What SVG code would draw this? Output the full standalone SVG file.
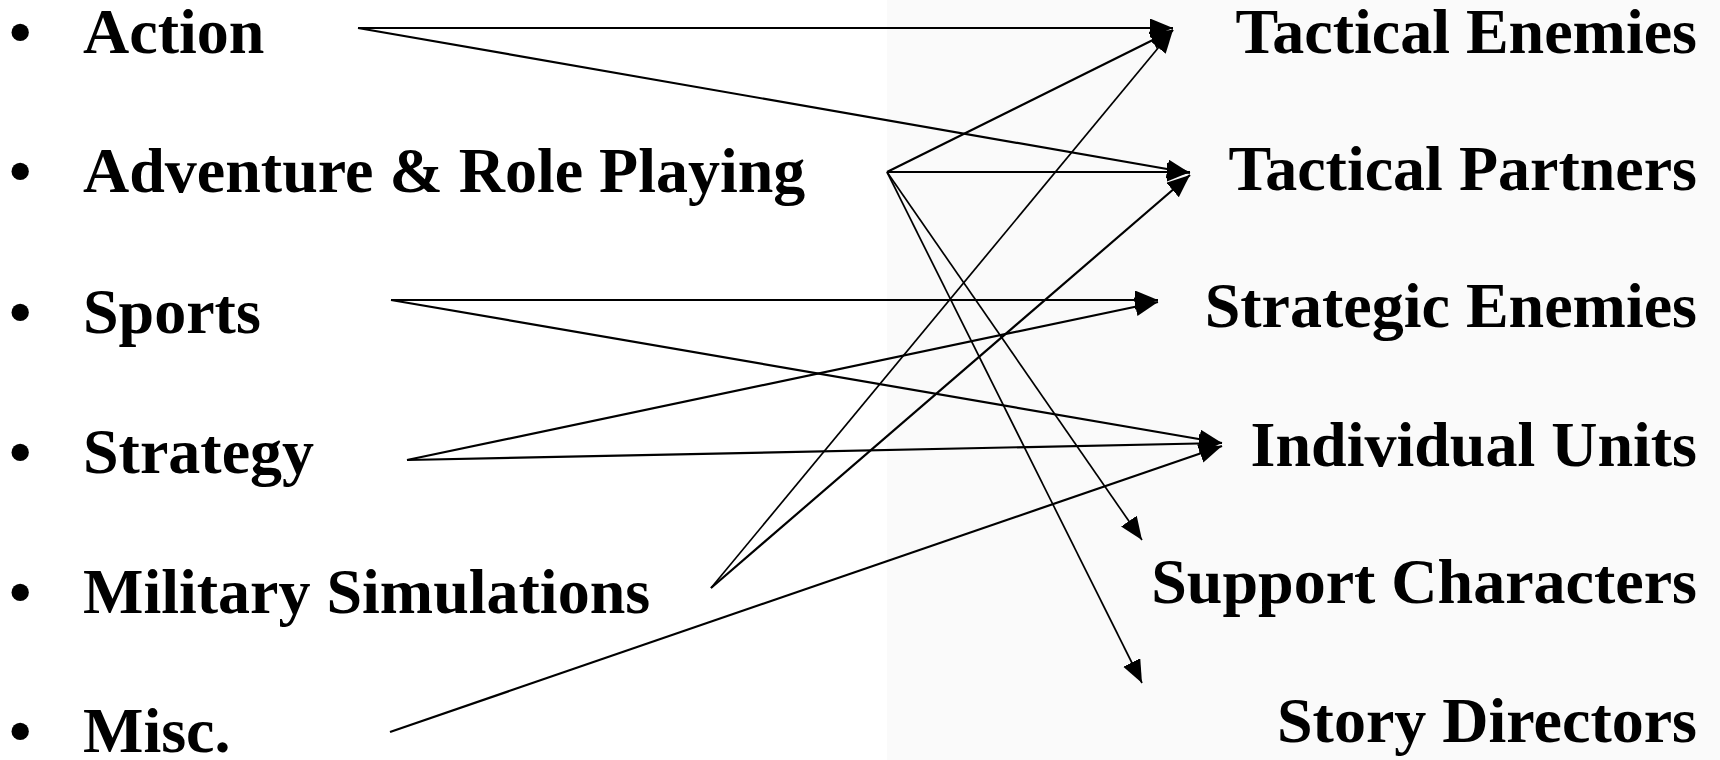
<svg xmlns="http://www.w3.org/2000/svg" width="1720" height="760" viewBox="0 0 1720 760">
<style>
.t{font-family:"Liberation Serif","Times New Roman",serif;font-weight:bold;font-size:64px;fill:#000}
.r{text-anchor:end}
.c line{stroke:#000;stroke-width:2.2;fill:none;marker-end:url(#ah)}
.c line.thin{stroke-width:1.7}
</style>
<defs>
<marker id="ah" markerUnits="userSpaceOnUse" markerWidth="24" markerHeight="20" refX="23" refY="9.5" orient="auto">
<path d="M0,0 L23,9.5 L0,19 z" fill="#000"/>
</marker>
</defs>
<rect x="0" y="0" width="1720" height="760" fill="#ffffff"/>
<rect x="887" y="0" width="833" height="760" fill="#fafafa"/>
<g id="src-action"><text class="t" x="9" y="53">•</text><text class="t" x="83" y="53">Action</text></g>
<g id="src-adventure"><text class="t" x="9" y="192">•</text><text class="t" x="83" y="192">Adventure &amp; Role Playing</text></g>
<g id="src-sports"><text class="t" x="9" y="333">•</text><text class="t" x="83" y="333">Sports</text></g>
<g id="src-strategy"><text class="t" x="9" y="473">•</text><text class="t" x="83" y="473">Strategy</text></g>
<g id="src-military"><text class="t" x="9" y="613">•</text><text class="t" x="83" y="613">Military Simulations</text></g>
<g id="src-misc"><text class="t" x="9" y="752">•</text><text class="t" x="83" y="752">Misc.</text></g>
<g id="dst-tactical-enemies"><text class="t r" x="1697" y="53">Tactical Enemies</text></g>
<g id="dst-tactical-partners"><text class="t r" x="1697" y="190">Tactical Partners</text></g>
<g id="dst-strategic-enemies"><text class="t r" x="1697" y="327">Strategic Enemies</text></g>
<g id="dst-individual-units"><text class="t r" x="1697" y="466">Individual Units</text></g>
<g id="dst-support-characters"><text class="t r" x="1697" y="603">Support Characters</text></g>
<g id="dst-story-directors"><text class="t r" x="1697" y="742">Story Directors</text></g>
<g id="connectors" class="c">
<line x1="358" y1="28" x2="1173" y2="28"/>
<line x1="358" y1="28" x2="1190" y2="173"/>
<line x1="887" y1="172" x2="1173" y2="30"/>
<line x1="887" y1="172" x2="1190" y2="172"/>
<line class="thin" x1="887" y1="172" x2="1142" y2="540"/>
<line class="thin" x1="887" y1="172" x2="1142" y2="683"/>
<line x1="391" y1="300" x2="1158" y2="300"/>
<line x1="391" y1="300" x2="1222" y2="443"/>
<line x1="407" y1="460" x2="1158" y2="302"/>
<line x1="407" y1="460" x2="1222" y2="443"/>
<line class="thin" x1="711" y1="588" x2="1173" y2="30"/>
<line x1="711" y1="588" x2="1190" y2="175"/>
<line x1="390" y1="732" x2="1222" y2="446"/>
</g>
</svg>
